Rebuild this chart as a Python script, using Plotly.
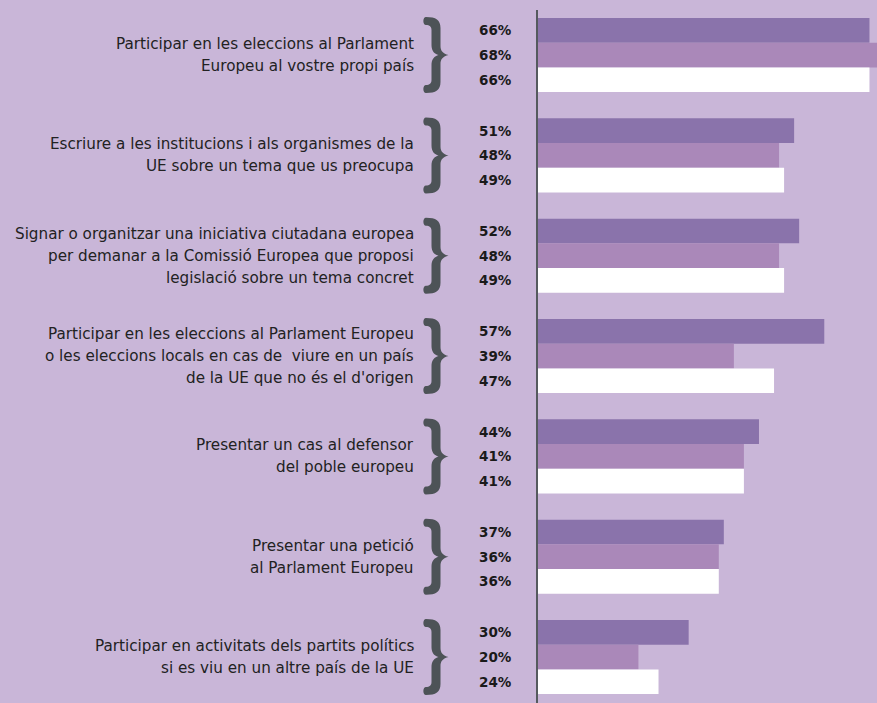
import plotly.graph_objects as go

categories = [
    ["Participar en les eleccions al Parlament", "Europeu al vostre propi país"],
    ["Escriure a les institucions i als organismes de la", "UE sobre un tema que us preocupa"],
    ["Signar o organitzar una iniciativa ciutadana europea", "per demanar a la Comissió Europea que proposi", "legislació sobre un tema concret"],
    ["Participar en les eleccions al Parlament Europeu", "o les eleccions locals en cas de  viure en un país", "de la UE que no és el d'origen"],
    ["Presentar un cas al defensor", "del poble europeu"],
    ["Presentar una petició", "al Parlament Europeu"],
    ["Participar en activitats dels partits polítics", "si es viu en un altre país de la UE"],
]
series1 = [66, 51, 52, 57, 44, 37, 30]
series2 = [68, 48, 48, 39, 41, 36, 20]
series3 = [66, 49, 49, 47, 41, 36, 24]
series = [series1, series2, series3]
colors = ["#8a73ab", "#aa88b9", "#ffffff"]

BG = "#c9b6d8"
BARGAP = 0.261
ypos = list(range(len(categories)))

# layout geometry (pixels)
W, H = 877, 703
ML, MT = 538, 10
PW = W - ML
YR = [6.458, -0.449]
PX_PER_Y = (H - MT) / (YR[0] - YR[1])

# brace outline, in pixel offsets from its centre (decorative glyph)
BRACE_CX = 437
BRACE = [
    ("M", [(-11, -38)]),
    ("C", [(-1, -38), (3.5, -35), (3.5, -27)]),
    ("L", [(3.5, -9)]),
    ("C", [(3.5, -4), (6, -1.5), (11.5, 0)]),
    ("C", [(6, 1.5), (3.5, 4), (3.5, 9)]),
    ("L", [(3.5, 27)]),
    ("C", [(3.5, 35), (-1, 38), (-11, 38)]),
    ("C", [(-14.5, 38), (-14.5, 30), (-11, 30)]),
    ("C", [(-7.5, 30), (-5.5, 28.5), (-5.5, 25)]),
    ("L", [(-5.5, 10)]),
    ("C", [(-5.5, 4), (-2.5, 1), (1.5, 0)]),
    ("C", [(-2.5, -1), (-5.5, -4), (-5.5, -10)]),
    ("L", [(-5.5, -25)]),
    ("C", [(-5.5, -28.5), (-7.5, -30), (-11, -30)]),
    ("C", [(-14.5, -30), (-14.5, -38), (-11, -38)]),
]


def brace_path(yc):
    parts = []
    for cmd, pts in BRACE:
        coords = " ".join(f"{(BRACE_CX - ML + dx) / PW:.5f},{yc + dy / PX_PER_Y:.5f}" for dx, dy in pts)
        parts.append(f"{cmd} {coords}")
    return " ".join(parts) + " Z"


fig = go.Figure()
for vals, col in zip(series, colors):
    fig.add_trace(go.Bar(y=ypos, x=vals, orientation="h", marker=dict(color=col, line=dict(width=0)),
                         hoverinfo="skip", showlegend=False))

bw = (1 - BARGAP) / 3
ann = []
shapes = []
for i, lines in enumerate(categories):
    n = len(lines)
    for j, line in enumerate(lines):
        ann.append(dict(x=-0.360, xref="paper", y=i, yref="y", xanchor="right", yanchor="middle",
                        text=line, showarrow=False, yshift=-(j - (n - 1) / 2) * 22,
                        font=dict(family="DejaVu Sans", size=15.2, color="#222222")))
    shapes.append(dict(type="path", xref="paper", yref="y", path=brace_path(i),
                       fillcolor="#4d5357", line=dict(width=0), layer="above"))
    for k, vals in enumerate(series):
        ann.append(dict(x=-0.072, xref="paper", y=i + (k - 1) * bw, yref="y", xanchor="right",
                        yanchor="middle", text=f"{vals[i]}%", showarrow=False,
                        font=dict(family="DejaVu Sans", size=13.5, color="#1a1a1a", weight="bold")))

fig.update_layout(
    width=W, height=H, paper_bgcolor=BG, plot_bgcolor=BG,
    margin=dict(l=ML, r=0, t=MT, b=0),
    barmode="group", bargap=BARGAP, bargroupgap=0,
    xaxis=dict(range=[0, 67.5], visible=False, fixedrange=True),
    yaxis=dict(range=YR, showticklabels=False, showgrid=False, zeroline=False,
               showline=True, linecolor="#555a5e", linewidth=2, ticks=""),
    annotations=ann, shapes=shapes,
)
fig.write_html("out.html", config={"displayModeBar": False},
               post_script="document.body.style.margin='0';document.body.style.background='" + BG + "';")
